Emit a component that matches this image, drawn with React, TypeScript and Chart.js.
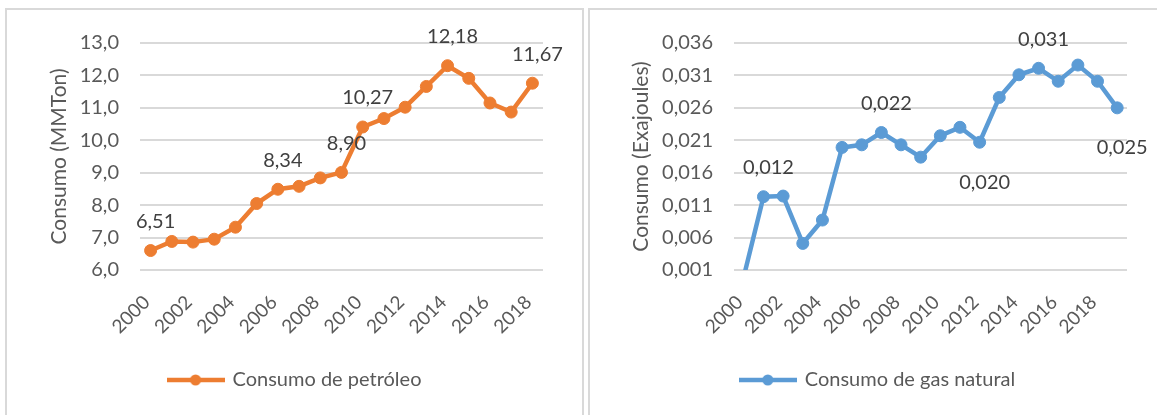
import React, { useEffect, useRef } from 'react';
import { Chart, registerables } from 'chart.js';

Chart.register(...registerables);

// ---------- data ----------
const oilYears = ['2000', '2001', '2002', '2003', '2004', '2005', '2006', '2007', '2008', '2009', '2010', '2011', '2012', '2013', '2014', '2015', '2016', '2017', '2018'];
const oilValues = [6.6, 6.88, 6.86, 6.95, 7.32, 8.05, 8.49, 8.58, 8.84, 9.01, 10.41, 10.67, 11.02, 11.66, 12.3, 11.91, 11.15, 10.87, 11.76];
const oilLabelIdx = [0, 6, 9, 10, 14, 18];
const oilLabelText = ['6,51', '8,34', '8,90', '10,27', '12,18', '11,67'];
const oilLabelPos = ['above', 'above', 'above', 'above', 'above', 'above'];

const gasYears = ['2000', '2001', '2002', '2003', '2004', '2005', '2006', '2007', '2008', '2009', '2010', '2011', '2012', '2013', '2014', '2015', '2016', '2017', '2018', '2019'];
const gasValues = [0, 0.0123, 0.0124, 0.0051, 0.0087, 0.0199, 0.0203, 0.0222, 0.0203, 0.0184, 0.0217, 0.023, 0.0207, 0.0276, 0.0311, 0.0321, 0.0301, 0.0326, 0.0301, 0.026];
const gasLabelIdx = [1, 7, 12, 15, 19];
const gasLabelText = ['0,012', '0,022', '0,020', '0,031', '0,025'];
const gasLabelPos = ['above', 'above', 'below', 'above', 'below'];

const FONT = 'Lato, "Open Sans", sans-serif';
const TEXT = '#595959';

type Props = {
  years: string[];
  values: number[];
  color: string;
  yMin: number;
  yMax: number;
  yStep: number;
  decimals: number;
  yTitle: string;
  legendText: string;
  labelIdx: number[];
  labelText: string[];
  labelPos: string[];
  width: number;
  height: number;
  pad: { left: number; right: number; top: number; bottom: number };
  yAxisWidth: number;
  hideFirst: boolean;
};

function LineChart(p: Props) {
  const ref = useRef<HTMLCanvasElement>(null);
  useEffect(() => {
    const img = document.createElement('canvas');
    img.width = 58;
    img.height = 14;
    const c = img.getContext('2d')!;
    c.strokeStyle = p.color;
    c.lineWidth = 4.5;
    c.beginPath();
    c.moveTo(0, 7);
    c.lineTo(58, 7);
    c.stroke();
    c.fillStyle = p.color;
    c.beginPath();
    c.arc(29, 7, 5.5, 0, Math.PI * 2);
    c.fill();

    const labelPlugin = {
      id: 'pointLabels',
      afterDatasetsDraw(chart: any) {
        const meta = chart.getDatasetMeta(0);
        const ctx = chart.ctx;
        ctx.save();
        ctx.font = `20px ${FONT}`;
        ctx.fillStyle = '#404040';
        ctx.textAlign = 'center';
        ctx.textBaseline = 'middle';
        p.labelIdx.forEach((idx, k) => {
          const pt = meta.data[idx];
          const dy = p.labelPos[k] === 'below' ? 40 : -29;
          ctx.fillText(p.labelText[k], pt.x + 5, pt.y + dy);
        });
        ctx.restore();
      },
    };

    const chart = new Chart(ref.current!, {
      type: 'line',
      data: {
        labels: p.years,
        datasets: [
          {
            label: p.legendText,
            data: p.values,
            borderColor: p.color,
            backgroundColor: p.color,
            borderWidth: 4.5,
            pointRadius: p.values.map((_, i) => (p.hideFirst && i === 0 ? 0 : 6)),
            pointHoverRadius: 6,
            pointBorderWidth: 1,
            pointBackgroundColor: p.color,
            pointBorderColor: p.color,
            tension: 0,
            clip: 0,
          } as any,
        ],
      },
      options: {
        responsive: false,
        animation: false,
        layout: { padding: p.pad },
        plugins: {
          tooltip: { enabled: false },
          legend: {
            position: 'bottom',
            labels: {
              usePointStyle: true,
              pointStyle: img as any,
              pointStyleWidth: 54,
              padding: 10,
              color: TEXT,
              font: { family: FONT, size: 20 },
            },
          },
        },
        scales: {
          x: {
            type: 'category',
            offset: true,
            grid: { display: false, drawTicks: false },
            border: { display: false },
            ticks: {
              autoSkip: false,
              maxRotation: 45,
              minRotation: 45,
              padding: 21,
              labelOffset: -4,
              color: TEXT,
              font: { family: FONT, size: 19 },
              callback: (_v: any, i: number) => (i % 2 === 0 ? p.years[i] : ''),
            },
            afterFit: (s: any) => {
              s.height = 90;
            },
          },
          y: {
            min: p.yMin,
            max: p.yMax,
            grid: { color: '#d9d9d9', lineWidth: 2, drawTicks: false },
            border: { display: false },
            ticks: {
              stepSize: p.yStep,
              padding: 21,
              color: TEXT,
              font: { family: FONT, size: 20 },
              callback: (v: any) => Number(v).toFixed(p.decimals).replace('.', ','),
            },
            title: {
              display: true,
              text: p.yTitle,
              color: TEXT,
              font: { family: FONT, size: 21 },
              padding: 0,
            },
            afterFit: (s: any) => {
              s.width = p.yAxisWidth;
            },
          },
        },
      },
      plugins: [labelPlugin],
    });
    return () => chart.destroy();
  }, []);
  return <canvas ref={ref} width={p.width} height={p.height} style={{ display: 'block', width: p.width, height: p.height }} />;
}

export default function App() {
  const panel: React.CSSProperties = {
    position: 'absolute',
    top: 8,
    height: 430,
    border: '2px solid #d9d9d9',
    boxSizing: 'border-box',
    background: '#fff',
  };
  return (
    <div style={{ position: 'fixed', left: 0, top: 0, width: 1157, height: 415, overflow: 'hidden', background: '#fff' }}>
      <div style={{ ...panel, left: 5, width: 579 }}>
        <LineChart
          years={oilYears}
          values={oilValues}
          color="#ED7D31"
          yMin={6}
          yMax={13}
          yStep={1}
          decimals={1}
          yTitle="Consumo (MMTon)"
          legendText="Consumo de petróleo"
          labelIdx={oilLabelIdx}
          labelText={oilLabelText}
          labelPos={oilLabelPos}
          width={575}
          height={405}
          pad={{ left: 40, right: 39, top: 31, bottom: 15 }}
          yAxisWidth={93}
          hideFirst={false}
        />
      </div>
      <div style={{ ...panel, left: 588, width: 586 }}>
        <LineChart
          years={gasYears}
          values={gasValues}
          color="#5B9BD5"
          yMin={0.001}
          yMax={0.036}
          yStep={0.005}
          decimals={3}
          yTitle="Consumo (Exajoules)"
          legendText="Consumo de gas natural"
          labelIdx={gasLabelIdx}
          labelText={gasLabelText}
          labelPos={gasLabelPos}
          width={582}
          height={405}
          pad={{ left: 39, right: 45, top: 31, bottom: 15 }}
          yAxisWidth={105}
          hideFirst={true}
        />
      </div>
    </div>
  );
}
